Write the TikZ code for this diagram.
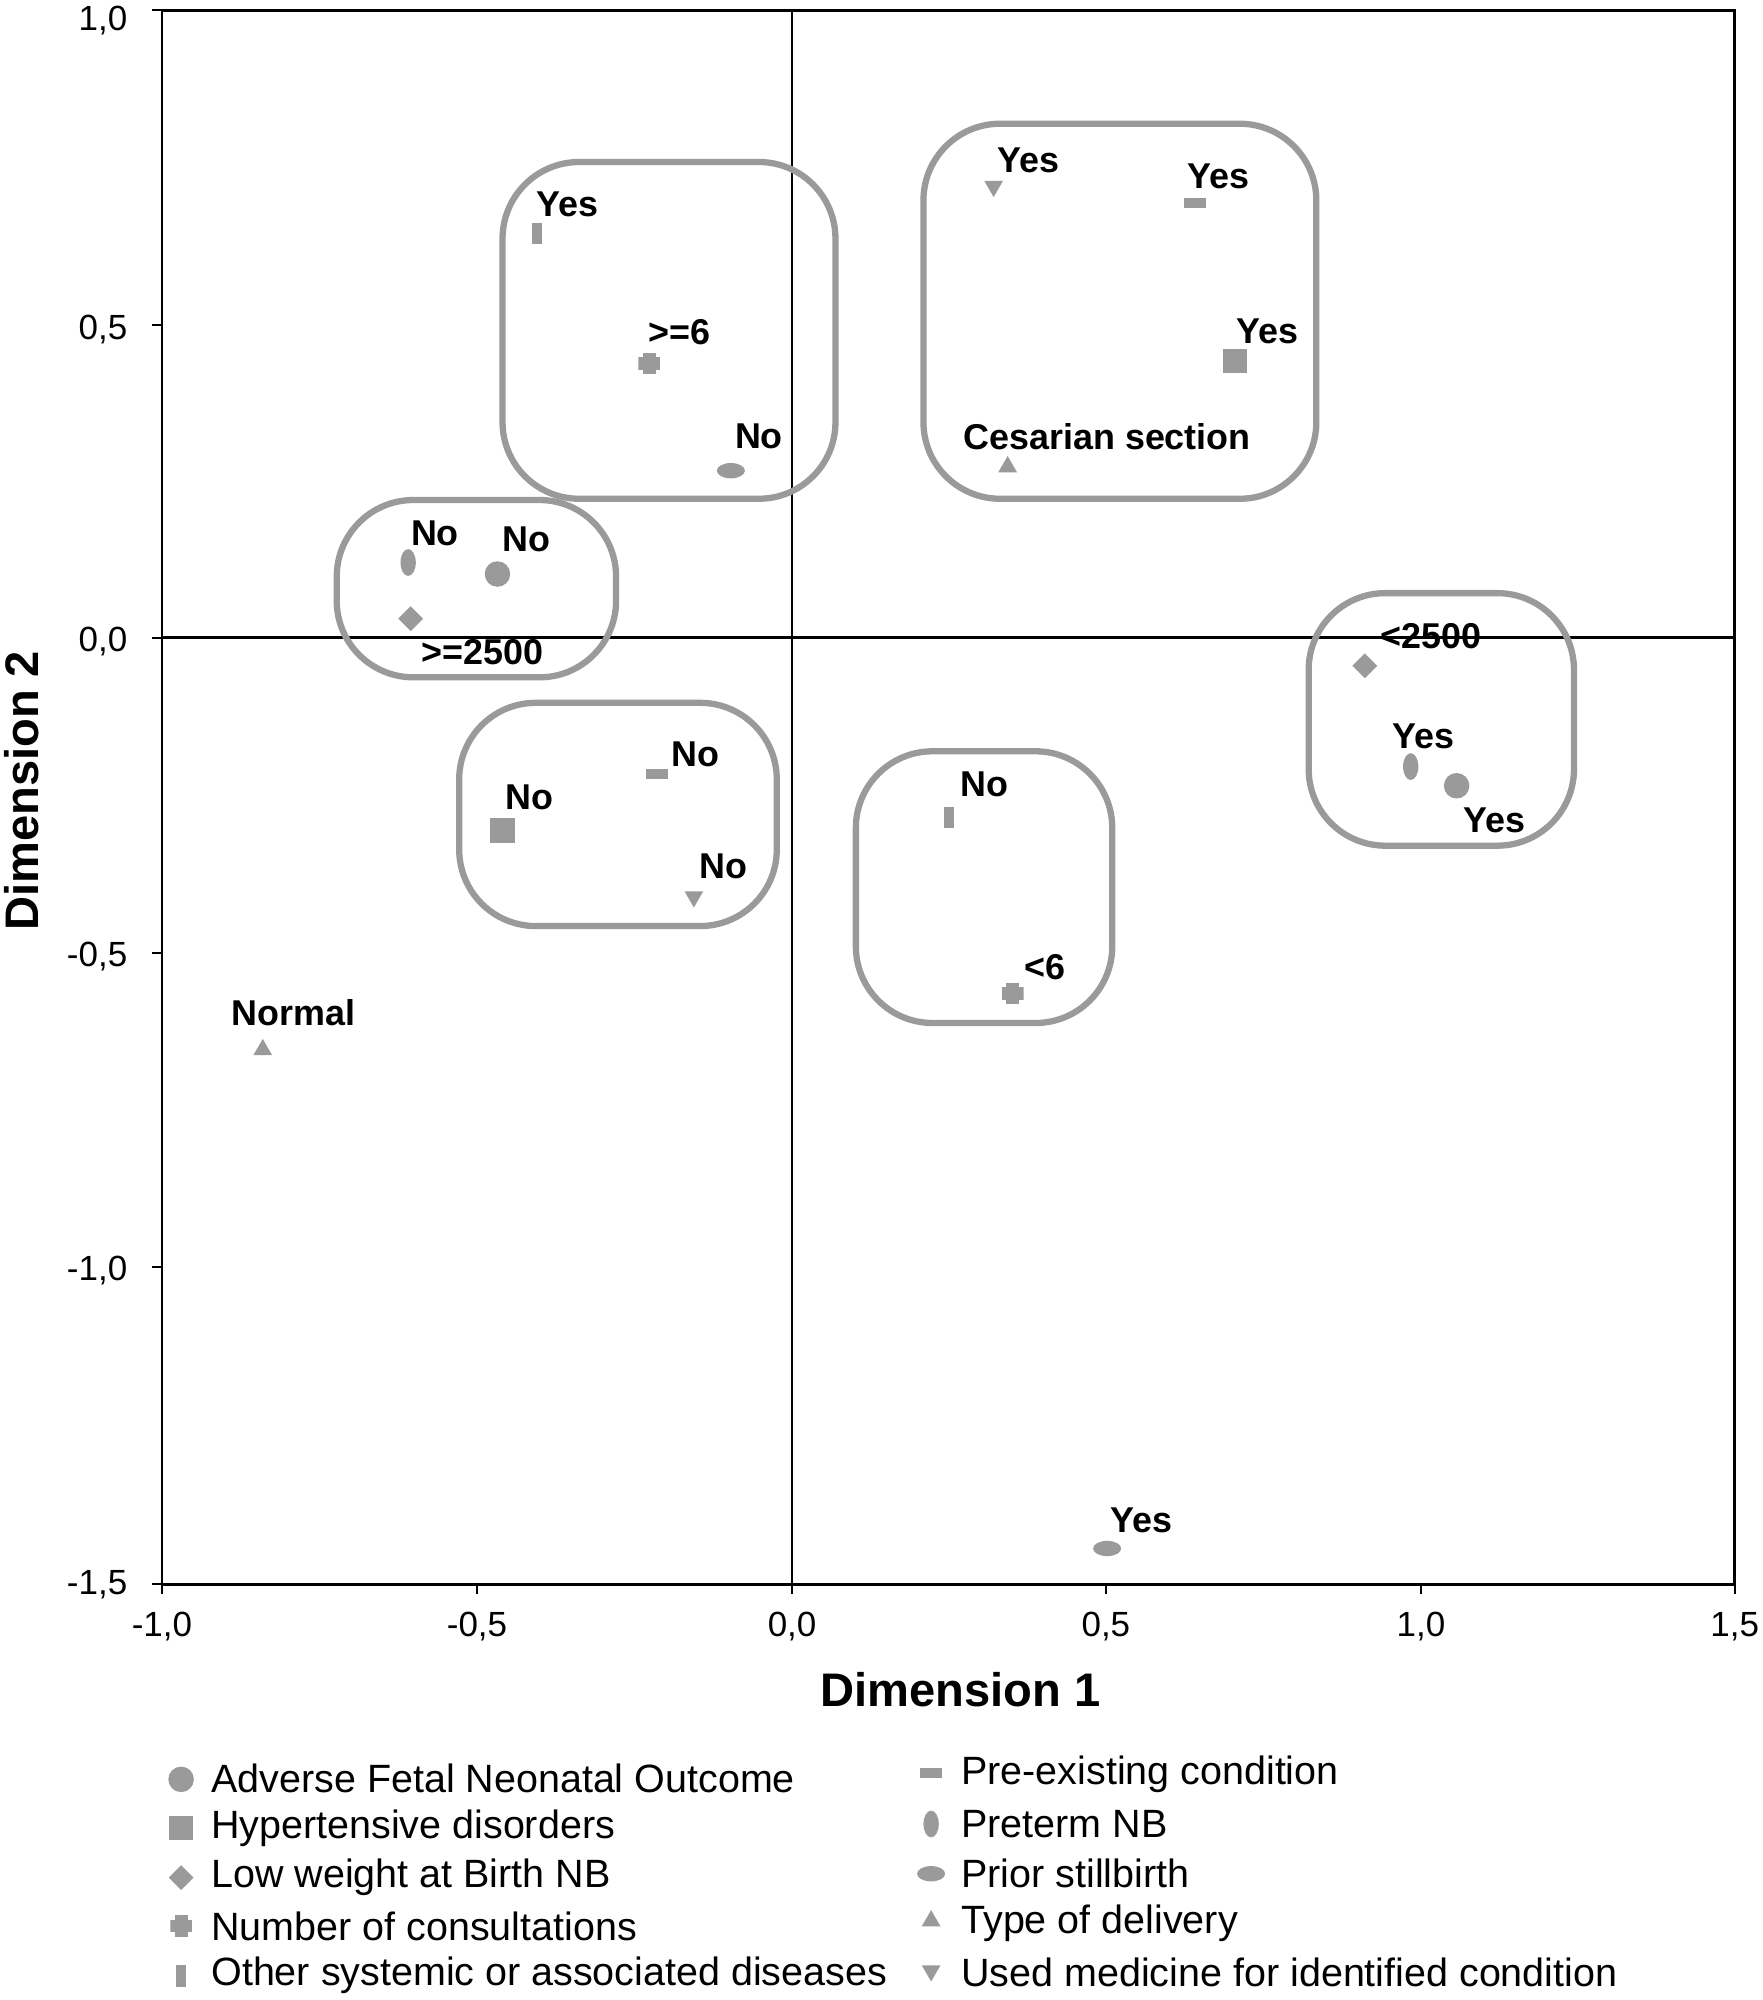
\documentclass[tikz,border=0pt]{standalone}
\usepackage{fontspec}
\setmainfont{Liberation Sans}
\usetikzlibrary{shapes.geometric}
\definecolor{mk}{HTML}{9A9A9A}
\begin{document}
\begin{tikzpicture}[
    x=0.01cm, y=-0.01cm,
    lbl/.style={font=\bfseries\fontsize{8}{9}\selectfont, inner sep=0pt},
    tck/.style={font=\fontsize{7.8}{8}\selectfont, inner sep=1pt},
    leg/.style={font=\fontsize{8.8}{10}\selectfont, anchor=west, inner sep=0pt},
    grp/.style={draw=mk, line width=1.4pt, rounded corners=0.6cm},
    mcirc/.style={circle, fill=mk, inner sep=0pt, minimum size=0.2cm},
    msq/.style={rectangle, fill=mk, inner sep=0pt, minimum size=0.19cm},
    mdia/.style={diamond, fill=mk, inner sep=0pt, minimum size=0.2cm},
    mup/.style={regular polygon, regular polygon sides=3, fill=mk, inner sep=0pt, minimum size=0.17cm},
    mdown/.style={mup, shape border rotate=180},
    mhbar/.style={rectangle, fill=mk, inner sep=0pt, minimum width=0.17cm, minimum height=0.08cm},
    mvbar/.style={rectangle, fill=mk, inner sep=0pt, minimum width=0.08cm, minimum height=0.17cm},
    mhell/.style={ellipse, fill=mk, inner sep=0pt, minimum width=0.22cm, minimum height=0.12cm},
    mvell/.style={ellipse, fill=mk, inner sep=0pt, minimum width=0.12cm, minimum height=0.21cm},
    mplus/.style={rectangle, inner sep=0pt, minimum size=0.17cm,
                  path picture={\fill[mk] ([xshift=-0.05cm]path picture bounding box.north) rectangle ([xshift=0.05cm]path picture bounding box.south);
                                \fill[mk] ([yshift=-0.05cm]path picture bounding box.west) rectangle ([yshift=0.05cm]path picture bounding box.east);}}
]
\useasboundingbox (0,0) rectangle (1382,1568);

% Frame and axes
\draw[line width=0.6pt] (127,8) rectangle (1360,1242);
\draw[line width=0.6pt] (621,8) -- (621,1242);
\draw[line width=0.6pt] (127,500) -- (1360,500);
\foreach \py/\t in {8/{1,0}, 255/{0,5}, 500/{0,0}, 747/{-0,5}, 993/{-1,0}, 1242/{-1,5}} {
  \draw (119,\py) -- (127,\py);
}
\foreach \py/\t in {16/{1,0}, 258/{0,5}, 503/{0,0}, 750/{-0,5}, 996/{-1,0}, 1242/{-1,5}} {
  \node[tck, anchor=east] at (104,\py) {\t};
}
\foreach \px/\t in {127/{-1,0}, 374/{-0,5}, 621/{0,0}, 867/{0,5}, 1114/{1,0}, 1360/{1,5}} {
  \draw (\px,1242) -- (\px,1250);
  \node[tck] at (\px,1275) {\t};
}
\node[font=\bfseries\fontsize{10.5}{11}\selectfont] (xlab) at (753,1325) {Dimension 1};
\node[font=\bfseries\fontsize{10.5}{11}\selectfont, rotate=90] (ylab) at (17,620) {Dimension 2};

% Groups
\draw[grp] (394,127) rectangle (655,391);
\draw[grp] (724,97) rectangle (1032,391);
\draw[grp] (264,392) rectangle (483,531);
\draw[grp] (1026,465) rectangle (1234,663);
\draw[grp] (360,551) rectangle (609,726);
\draw[grp] (671,589) rectangle (872,802);

% Categories
\node[mvbar] (osyes) at (421,183) {};  \node[lbl] (losyes) at (445,160) {Yes};
\node[mplus] (nc6) at (509,285) {};    \node[lbl] (lnc6) at (533,260) {>=6};
\node[mhell] (psno) at (573,369) {};   \node[lbl] (lpsno) at (595,342) {No};
\node[mdown] (umyes) at (779,146) {};  \node[lbl] (lumyes) at (806,126) {Yes};
\node[mhbar] (peyes) at (937,159) {};  \node[lbl] (lpeyes) at (955,138) {Yes};
\node[msq] (hdyes) at (968,283) {};    \node[lbl] (lhdyes) at (994,260) {Yes};
\node[mup] (ces) at (790,366) {};      \node[lbl] (lces) at (868,342) {Cesarian section};
\node[mvell] (ptno) at (320,441) {};   \node[lbl] (lptno) at (341,418) {No};
\node[mcirc] (afno) at (390,450) {};   \node[lbl] (lafno) at (413,423) {No};
\node[mdia] (lw25) at (322,485) {};    \node[lbl] (llw25) at (378,511) {>=2500};
\node[mdia] (lwl25) at (1070,522) {};  \node[lbl] (llwl25) at (1122,499) {<2500};
\node[mvell] (ptyes) at (1106,601) {}; \node[lbl] (lptyes) at (1116,577) {Yes};
\node[mcirc] (afyes) at (1142,616) {}; \node[lbl] (lafyes) at (1172,643) {Yes};
\node[mhbar] (peno) at (515,607) {};   \node[lbl] (lpeno) at (545,591) {No};
\node[msq] (hdno) at (394,651) {};     \node[lbl] (lhdno) at (415,625) {No};
\node[mdown] (umno) at (544,703) {};   \node[lbl] (lumno) at (567,679) {No};
\node[mvbar] (osno) at (744,641) {};   \node[lbl] (losno) at (772,615) {No};
\node[mplus] (ncl6) at (794,779) {};   \node[lbl] (lncl6) at (819,758) {<6};
\node[mup] (normal) at (206,823) {};   \node[lbl] (lnormal) at (230,794) {Normal};
\node[mhell] (psyes) at (868,1214) {}; \node[lbl] (lpsyes) at (895,1192) {Yes};

% Legend
\node[mcirc] (k1) at (142,1395) {};  \node[leg] at (165,1394) {Adverse Fetal Neonatal Outcome};
\node[msq]   (k2) at (142,1433) {};  \node[leg] at (165,1433) {Hypertensive disorders};
\node[mdia]  (k3) at (142,1472) {};  \node[leg] at (165,1472) {Low weight at Birth NB};
\node[mplus] (k4) at (142,1510) {};  \node[leg] at (165,1510) {Number of consultations};
\node[mvbar] (k5) at (142,1549) {};  \node[leg] at (165,1549) {Other systemic or associated diseases};
\node[mhbar] (k6) at (730,1390) {};  \node[leg] at (753,1391) {Pre-existing condition};
\node[mvell] (k7) at (730,1430) {};  \node[leg] at (753,1430) {Preterm NB};
\node[mhell] (k8) at (730,1469) {};  \node[leg] at (753,1469) {Prior stillbirth};
\node[mup]   (k9) at (730,1506) {};  \node[leg] at (753,1508) {Type of delivery};
\node[mdown] (k10) at (730,1545) {}; \node[leg] at (753,1546) {Used medicine for identified condition};
\end{tikzpicture}
\end{document}
